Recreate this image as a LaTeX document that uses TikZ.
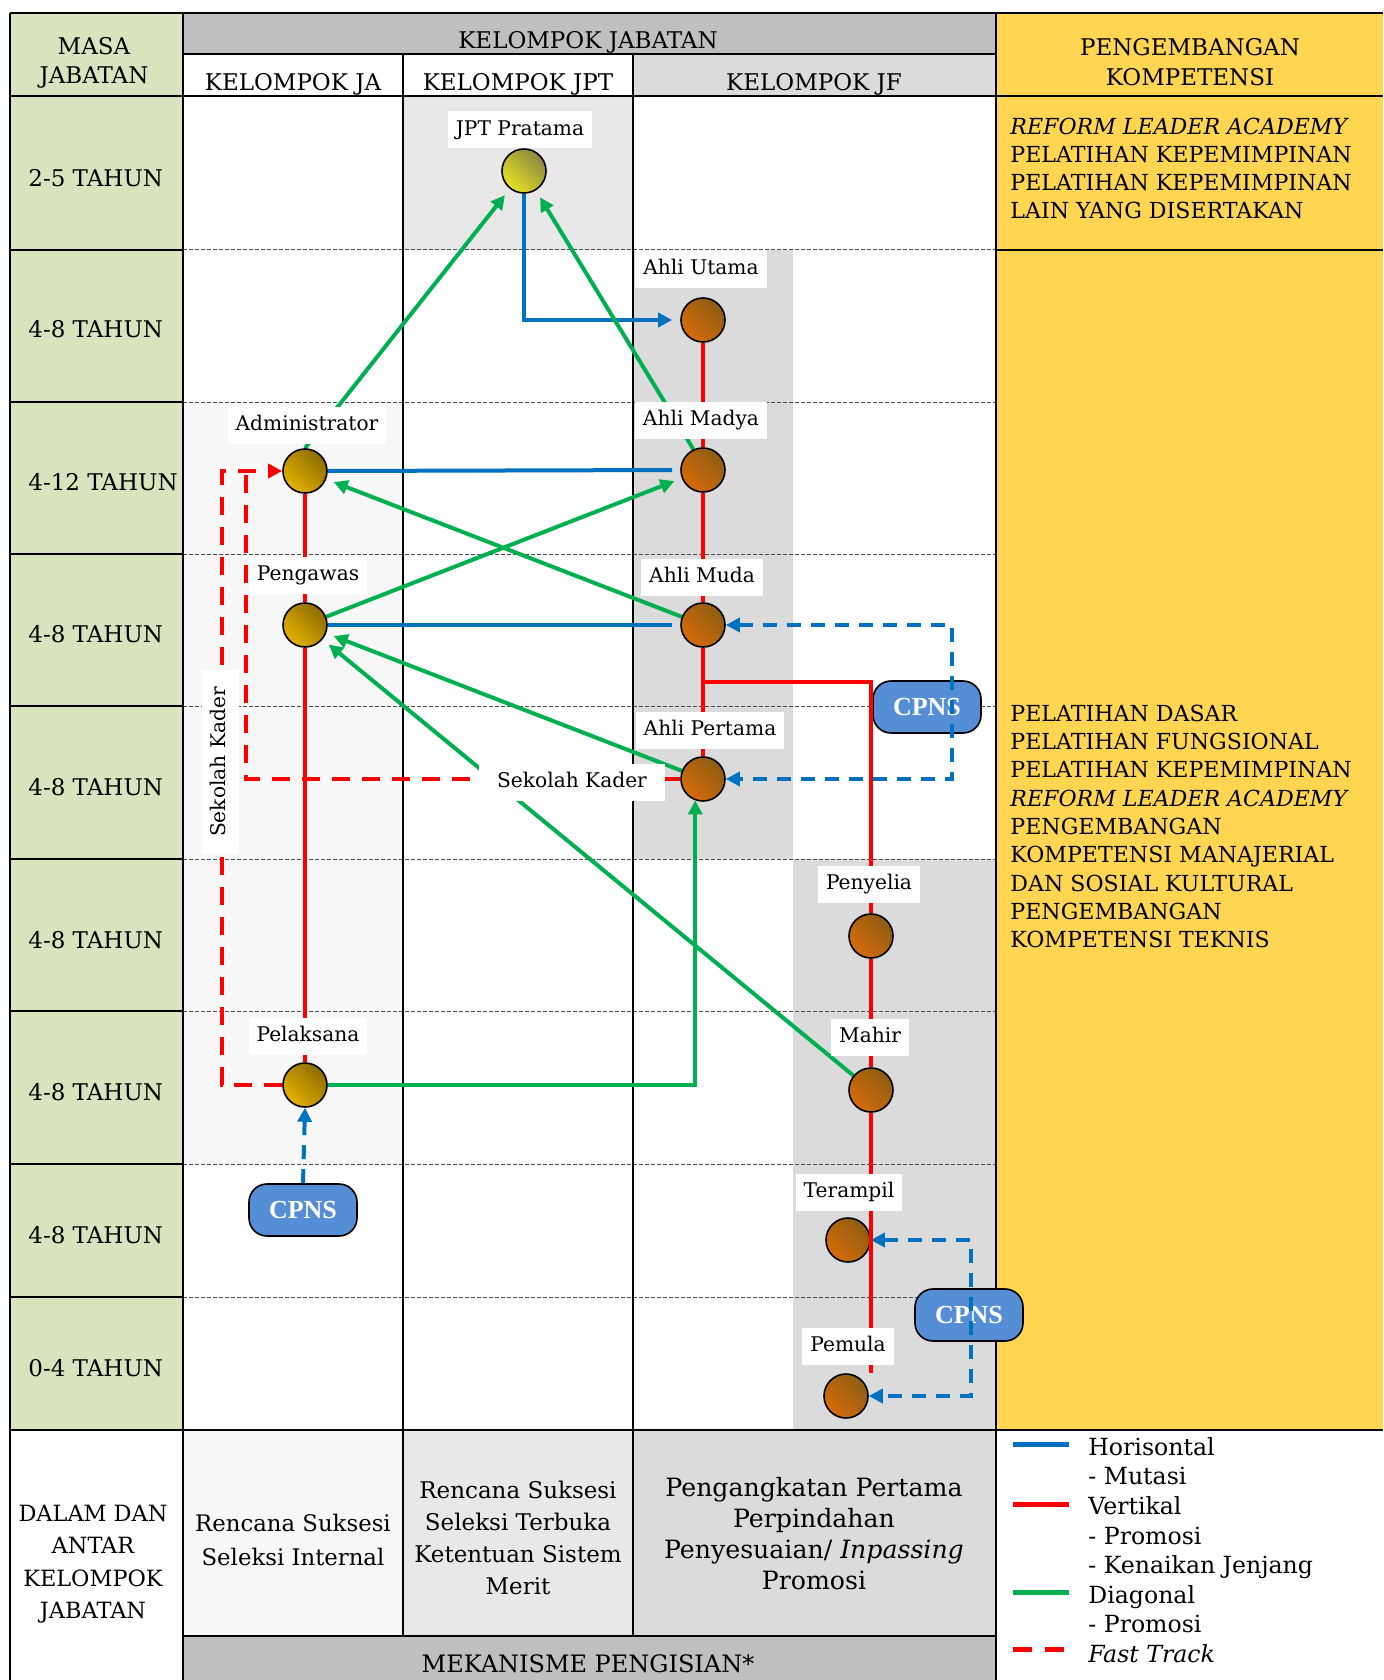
\documentclass[tikz,border=0pt]{standalone}
\usepackage{fontspec}
\setmainfont{DejaVu Serif}
\newfontfamily\cpnsfont{Liberation Serif}
\usetikzlibrary{arrows.meta,shadings}

\definecolor{hijaumasa}{RGB}{215,228,189}
\definecolor{kuning}{RGB}{255,213,82}
\definecolor{abuja}{RGB}{247,247,247}
\definecolor{abujpt}{RGB}{232,232,232}
\definecolor{abujf}{RGB}{219,219,219}
\definecolor{abujudul}{RGB}{191,191,191}
\definecolor{biru}{RGB}{0,112,192}
\definecolor{merah}{RGB}{255,0,0}
\definecolor{hijau}{RGB}{0,176,80}
\definecolor{birucpns}{RGB}{85,142,213}
\definecolor{jaT}{RGB}{246,192,0}
\definecolor{jaG}{RGB}{124,94,4}
\definecolor{jfT}{RGB}{230,110,10}
\definecolor{jfG}{RGB}{125,90,20}
\definecolor{jptT}{RGB}{250,245,30}
\definecolor{jptG}{RGB}{120,115,70}
\colorlet{jaM}{jaT!50!jaG}
\colorlet{jfM}{jfT!50!jfG}
\colorlet{jptM}{jptT!50!jptG}

\pgfdeclarelayer{grid}
\pgfdeclarelayer{lines}
\pgfsetlayers{grid,lines,main}

\begin{document}
\begin{tikzpicture}[x=0.5pt,y=-0.5pt,
    tebal/.style={line width=1.2pt},
    baris/.style={line width=0.5pt,black!70,dash pattern=on 2pt off 1pt},
    teks/.style={inner sep=0pt,align=center,font=\fontsize{11.5}{14.5}\selectfont},
    teksPK/.style={inner sep=0pt,align=left,anchor=west,font=\fontsize{11.05}{14.15}\selectfont},
    jbox/.style={fill=white,inner xsep=4pt,inner ysep=0pt,minimum height=18.5pt,
      text height=7.6pt,text depth=2.2pt,font=\fontsize{10.1}{12}\selectfont},
    titik/.style={circle,draw=black,line width=0.8pt,minimum size=22pt,inner sep=0pt},
    ja/.style={titik,lower left=jaT,upper right=jaG,upper left=jaM,lower right=jaM},
    jf/.style={titik,lower left=jfT,upper right=jfG,upper left=jfM,lower right=jfM},
    jpt/.style={titik,lower left=jptT,upper right=jptG,upper left=jptM,lower right=jptM},
    cpns/.style={draw=black,line width=0.8pt,fill=birucpns,rounded corners=9pt,
      minimum width=54pt,minimum height=26pt,inner sep=0pt,text=white,
      font=\cpnsfont\bfseries\fontsize{13}{13}\selectfont},
    horis/.style={biru,line width=2pt},
    vert/.style={merah,line width=2pt},
    diag/.style={hijau,line width=2pt},
    fast/.style={merah,line width=2.2pt,dash pattern=on 9pt off 6pt},
    putus/.style={biru,line width=2pt,dash pattern=on 7pt off 5pt},
    panah/.style={-{Triangle[length=7pt,width=7pt]}},
    jarak/.style={shorten >=4pt}]

  \useasboundingbox (0,0) rectangle (1383,1680);

  \begin{pgfonlayer}{grid}
    % masa jabatan
    \fill[hijaumasa] (10,13) rectangle (183,1430);
    % kelompok jabatan
    \fill[abujudul] (183,13) rectangle (996,54);
    \fill[abujf] (633,54) rectangle (996,96);
    \fill[abujpt] (403,96) rectangle (633,250);
    \fill[abuja] (183,402) rectangle (403,1164);
    \fill[abujf] (633,250) rectangle (793,859);
    \fill[abujf] (793,859) rectangle (996,1430);
    % pengembangan kompetensi
    \fill[kuning] (996,13) rectangle (1383,1430);
    % mekanisme pengisian
    \fill[abuja] (183,1430) rectangle (403,1636);
    \fill[abujpt] (403,1430) rectangle (633,1636);
    \fill[abujf] (633,1430) rectangle (996,1636);
    \fill[abujudul] (183,1636) rectangle (996,1680);

    % garis baris
    \draw[baris] (183,250) -- (996,250) (183,402) -- (996,402) (183,554) -- (996,554)
      (183,706) -- (996,706) (183,859) -- (996,859) (183,1011) -- (996,1011)
      (183,1164) -- (996,1164) (183,1297) -- (996,1297);
    \draw[tebal] (10,250) -- (183,250) (10,402) -- (183,402) (10,554) -- (183,554)
      (10,706) -- (183,706) (10,859) -- (183,859) (10,1011) -- (183,1011)
      (10,1164) -- (183,1164) (10,1297) -- (183,1297);
    \draw[tebal] (10,13) -- (1383,13);
    \draw[tebal] (10,13) -- (10,1680);
    \draw[tebal] (183,13) -- (183,1680);
    \draw[tebal] (996,13) -- (996,1680);
    \draw[tebal] (403,54) -- (403,1636);
    \draw[tebal] (633,54) -- (633,1636);
    \draw[tebal] (183,54) -- (996,54);
    \draw[tebal] (10,96) -- (1383,96);
    \draw[tebal] (996,250) -- (1383,250);
    \draw[tebal] (10,1430) -- (1383,1430);
    \draw[tebal] (183,1636) -- (996,1636);

    % judul
    \node[teks] (masa) at (94,63) {MASA\\JABATAN};
    \node[teks] (kel) at (588,42) {KELOMPOK JABATAN};
    \node[teks] (kelja) at (293,84) {KELOMPOK JA};
    \node[teks] (keljpt) at (518,84) {KELOMPOK JPT};
    \node[teks] (keljf) at (814,84) {KELOMPOK JF};
    \node[teks,font=\fontsize{11.5}{15}\selectfont] (pk) at (1190,62) {PENGEMBANGAN\\KOMPETENSI};

    % tahun
    \node[teks,anchor=west] (th1) at (28,178) {2-5 TAHUN};
    \node[teks,anchor=west] (th2) at (28,329) {4-8 TAHUN};
    \node[teks,anchor=west] (th3) at (28,482) {4-12 TAHUN};
    \node[teks,anchor=west] (th4) at (28,634) {4-8 TAHUN};
    \node[teks,anchor=west] (th5) at (28,787) {4-8 TAHUN};
    \node[teks,anchor=west] (th6) at (28,940) {4-8 TAHUN};
    \node[teks,anchor=west] (th7) at (28,1092) {4-8 TAHUN};
    \node[teks,anchor=west] (th8) at (28,1235) {4-8 TAHUN};
    \node[teks,anchor=west] (th9) at (28,1368) {0-4 TAHUN};

    % isi pengembangan kompetensi
    \node[teksPK] (pk1) at (1010,168.5) {\textit{REFORM LEADER ACADEMY}\\PELATIHAN KEPEMIMPINAN\\
      PELATIHAN KEPEMIMPINAN\\LAIN YANG DISERTAKAN};
    \node[teksPK] (pk2) at (1010,826.5) {PELATIHAN DASAR\\PELATIHAN FUNGSIONAL\\
      PELATIHAN KEPEMIMPINAN\\\textit{REFORM LEADER ACADEMY}\\PENGEMBANGAN\\
      KOMPETENSI MANAJERIAL\\DAN SOSIAL KULTURAL\\PENGEMBANGAN\\KOMPETENSI TEKNIS};

    % mekanisme pengisian
    \node[teks,font=\fontsize{11.2}{16.2}\selectfont] (antar) at (93,1564)
      {DALAM DAN\\ANTAR\\KELOMPOK\\JABATAN};
    \node[teks,font=\fontsize{11.4}{17}\selectfont] (mja) at (293,1540)
      {Rencana Suksesi\\Seleksi Internal};
    \node[teks,font=\fontsize{11.5}{16}\selectfont] (mjpt) at (518,1538)
      {Rencana Suksesi\\Seleksi Terbuka\\Ketentuan Sistem\\Merit};
    \node[teks,font=\fontsize{12.6}{15.5}\selectfont] (mjf) at (814,1534)
      {Pengangkatan Pertama\\Perpindahan\\Penyesuaian/ \textit{Inpassing}\\Promosi};
    \node[teks,font=\fontsize{12}{14}\selectfont] (mek) at (588,1664) {MEKANISME PENGISIAN*};

    % keterangan
    \draw[horis,line width=2.5pt] (1013,1444) -- (1069,1444);
    \draw[vert,line width=2.5pt] (1013,1504) -- (1069,1504);
    \draw[diag,line width=2.5pt] (1013,1592) -- (1069,1592);
    \draw[merah,line width=2.5pt,dash pattern=on 9.5pt off 6.5pt] (1013,1649) -- (1069,1649);
    \node[teks,align=left,anchor=north west,font=\fontsize{11.8}{14.8}\selectfont] (ket) at (1088,1437)
      {Horisontal\\- Mutasi\\Vertikal\\- Promosi\\- Kenaikan Jenjang\\Diagonal\\- Promosi\\\textit{Fast Track}};
  \end{pgfonlayer}

  % jabatan
  \node[jpt] (jpt) at (524,171) {};
  \node[ja] (adm) at (305,471) {};
  \node[ja] (pgw) at (305,625) {};
  \node[ja] (pel) at (305,1085) {};
  \node[jf] (utama) at (703,320) {};
  \node[jf] (madya) at (703,470) {};
  \node[jf] (muda) at (703,625) {};
  \node[jf] (pertama) at (703,779) {};
  \node[jf] (penyelia) at (871,936) {};
  \node[jf] (mahir) at (871,1090) {};
  \node[jf] (terampil) at (848,1240) {};
  \node[jf] (pemula) at (846,1396) {};

  \coordinate (cab) at (703,682);
  \coordinate (cpj) at (952,779);
  \coordinate (cpk) at (971,1396);
  \coordinate (ftA) at (222,471);
  \coordinate (ftB) at (246,471);

  \begin{pgfonlayer}{lines}
    % CPNS
    \node[cpns] (cpnsja) at (303,1210) {CPNS};
    \node[cpns] (cpnsjf) at (927,707) {CPNS};
    \node[cpns] (cpnsjft) at (969,1315) {CPNS};

    % horisontal
    \draw[horis,panah,jarak] (jpt.south) |- (utama.west);
    \draw[horis,jarak] (adm.east) -- (madya.west);
    \draw[horis,jarak] (pgw.east) -- (muda.west);
    \draw[putus,{Triangle[length=7pt,width=7pt]}-{Triangle[length=7pt,width=7pt]}]
      (muda.east) -| (cpj) -- (pertama.east);
    \draw[putus,{Triangle[length=7pt,width=7pt]}-{Triangle[length=7pt,width=7pt]}]
      (terampil.east) -| (cpk) -- (pemula.east);
    \draw[putus,panah] (cpnsja.north) -- (pel.south);

    % vertikal
    \draw[vert] (utama) -- (madya) -- (muda) -- (pertama);
    \draw[vert] (cab) -| (penyelia);
    \draw[vert] (penyelia) -- (mahir);
    \draw[vert] (adm) -- (pgw) -- (pel);

    % fast track
    \draw[fast,panah] (pel.west) -| (ftA) -- (adm.west);
    \draw[fast] (pertama.west) -| (ftB);

    % diagonal
    \draw[diag,panah,jarak] (adm.north) -- (jpt);
    \draw[diag,panah,jarak] (madya.115) -- (jpt);
    \draw[diag,panah,jarak] (pgw) -- (madya);
    \draw[diag,panah,jarak] (muda) -- (adm);
    \draw[diag,panah,jarak] (pertama) -- (pgw);
    \draw[diag,panah,jarak] (mahir) -- (pgw);
    \draw[diag,panah] (pel.east) -| (pertama.250);
  \end{pgfonlayer}

  \draw[vert] (mahir) -- (mahir |- pemula.north);

  % nama jabatan
  \node[jbox] (ljpt) at (520,130) {JPT Pratama};
  \node[jbox] (ladm) at (307,425) {Administrator};
  \node[jbox] (lpgw) at (308,575) {Pengawas};
  \node[jbox] (lpel) at (308,1036) {Pelaksana};
  \node[jbox] (lutama) at (701,269) {Ahli Utama};
  \node[jbox] (lmadya) at (701,420) {Ahli Madya};
  \node[jbox] (lmuda) at (702,577) {Ahli Muda};
  \node[jbox] (lpertama) at (710,730) {Ahli Pertama};
  \node[jbox] (lpenyelia) at (869,884) {Penyelia};
  \node[jbox] (lmahir) at (870,1037) {Mahir};
  \node[jbox] (lterampil) at (849,1192) {Terampil};
  \node[jbox] (lpemula) at (848,1346) {Pemula};
  \node[jbox,inner xsep=9pt] (sk1) at (572,782) {Sekolah Kader};
  \node[jbox,inner xsep=8.5pt,rotate=90] (sk2) at (220,762) {Sekolah Kader};
\end{tikzpicture}
\end{document}
